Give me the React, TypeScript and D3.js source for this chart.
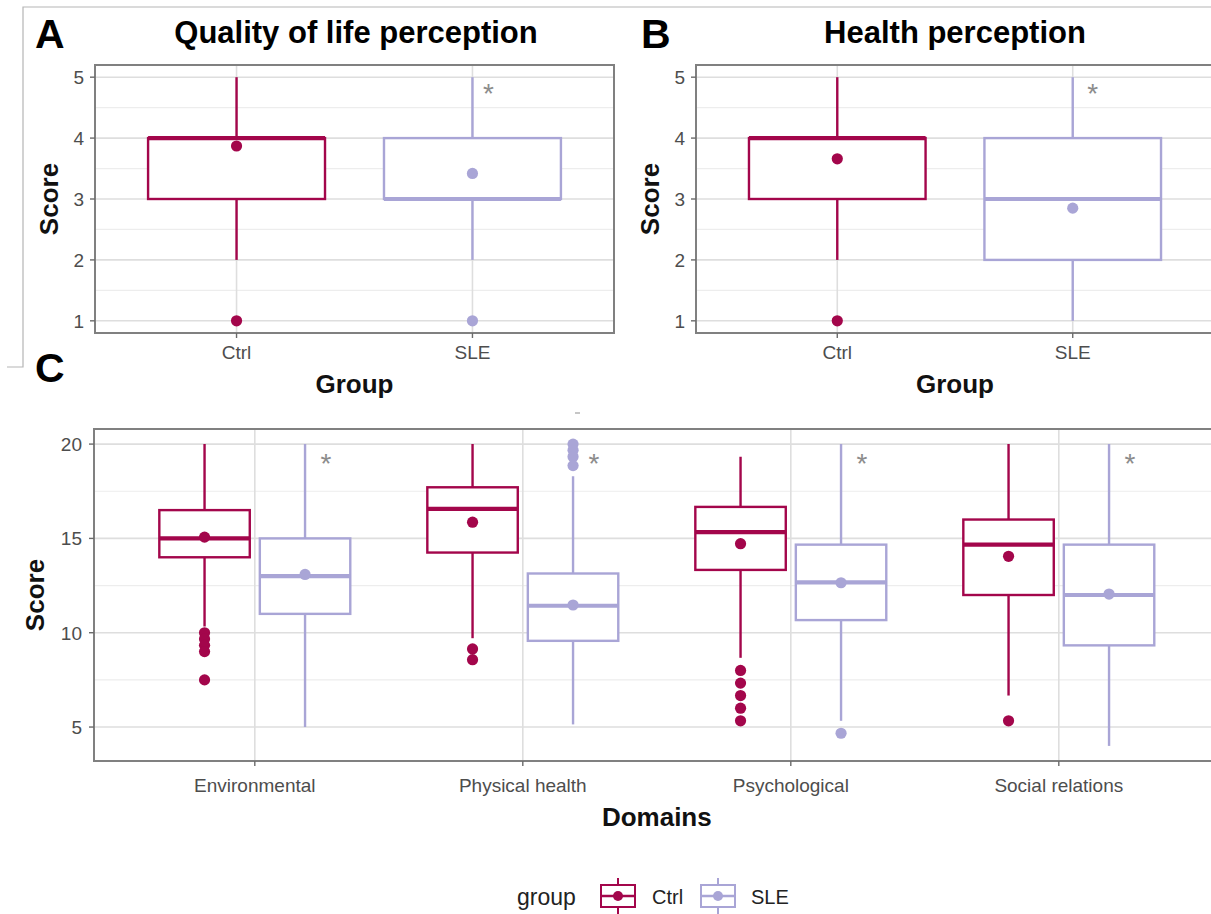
import React from "react";
import * as d3 from "d3";

// ---- data ----
const groups = ["Ctrl", "SLE"];
const domains = ["Environmental", "Physical health", "Psychological", "Social relations"];

// box statistics: [lower whisker, Q1, median, Q3, upper whisker]
const qolStats = [
  [2, 3, 4, 4, 5],
  [2, 3, 3, 4, 5],
];
const qolMeans = [3.87, 3.42];
const qolOutliers = [[1], [1]];

const healthStats = [
  [2, 3, 4, 4, 5],
  [1, 2, 3, 4, 5],
];
const healthMeans = [3.66, 2.85];
const healthOutliers = [[1], []];

const domainCtrlStats = [
  [10.33, 14, 15, 16.5, 20],
  [9.71, 14.25, 16.57, 17.71, 20],
  [8.67, 13.33, 15.33, 16.67, 19.33],
  [6.67, 12, 14.67, 16, 20],
];
const domainSleStats = [
  [5, 11, 13, 15, 20],
  [5.14, 9.57, 11.43, 13.14, 18.29],
  [5.33, 10.67, 12.67, 14.67, 20],
  [4, 9.33, 12, 14.67, 20],
];
const domainCtrlMeans = [15.07, 15.86, 14.72, 14.05];
const domainSleMeans = [13.09, 11.47, 12.65, 12.05];
const domainCtrlOutliers = [[10, 9.67, 9.33, 9, 7.5], [9.14, 8.57], [8, 7.33, 6.67, 6, 5.33], [5.33]];
const domainSleOutliers = [[], [20, 19.67, 19.33, 18.86], [4.67], []];

const smallTicks = [1, 2, 3, 4, 5];
const smallMinor = [1.5, 2.5, 3.5, 4.5];
const domainTicks = [5, 10, 15, 20];
const domainMinor = [7.5, 12.5, 17.5];

// ---- style ----
const FONT = "'Liberation Sans', Arial, Helvetica, sans-serif";
const colors: Record<string, string> = { Ctrl: "#A3064B", SLE: "#A9A5D6" };
const W = 1211;
const H = 914;

type Box = { stats: number[]; mean: number; outliers: number[]; color: string; cx: number; half: number };

function BoxGlyph({ b, y }: { b: Box; y: d3.ScaleLinear<number, number> }) {
  const [lo, q1, med, q3, hi] = b.stats;
  return (
    <g>
      <line x1={b.cx} x2={b.cx} y1={y(hi)} y2={y(q3)} stroke={b.color} strokeWidth={2.4} />
      <line x1={b.cx} x2={b.cx} y1={y(q1)} y2={y(lo)} stroke={b.color} strokeWidth={2.4} />
      <rect
        x={b.cx - b.half}
        y={y(q3)}
        width={b.half * 2}
        height={y(q1) - y(q3)}
        fill="#fff"
        stroke={b.color}
        strokeWidth={2.4}
      />
      <line x1={b.cx - b.half} x2={b.cx + b.half} y1={y(med)} y2={y(med)} stroke={b.color} strokeWidth={4.2} />
      {b.outliers.map((o, i) => (
        <circle key={i} cx={b.cx} cy={y(o)} r={5.6} fill={b.color} />
      ))}
      <circle cx={b.cx} cy={y(b.mean)} r={5.6} fill={b.color} />
    </g>
  );
}

type PanelProps = {
  left: number;
  right: number;
  top: number;
  bottom: number;
  cats: string[];
  domain: [number, number];
  ticks: number[];
  minor: number[];
  boxes: (x: d3.ScalePoint<string>) => Box[];
  stars: (x: d3.ScalePoint<string>) => { x: number; v: number }[];
  starV: number;
  tickLabelX: number;
  catLabelY: number;
  xTitle: string;
  xTitleY: number;
  yTitleX: number;
};

function Panel(p: PanelProps) {
  const x = d3.scalePoint<string>().domain(p.cats).range([p.left, p.right]).padding(0.6);
  const y = d3.scaleLinear().domain(p.domain).range([p.bottom, p.top]);
  const clipId = `clip-${Math.round(p.left)}-${Math.round(p.top)}`;
  const clipRight = Math.min(p.right, W + 20);
  return (
    <g>
      <defs>
        <clipPath id={clipId}>
          <rect x={p.left} y={p.top} width={clipRight - p.left} height={p.bottom - p.top} />
        </clipPath>
      </defs>
      <g clipPath={`url(#${clipId})`}>
        {p.minor.map((t) => (
          <line key={"m" + t} x1={p.left} x2={p.right} y1={y(t)} y2={y(t)} stroke="#EDEDED" strokeWidth={1.2} />
        ))}
        {p.ticks.map((t) => (
          <line key={"g" + t} x1={p.left} x2={p.right} y1={y(t)} y2={y(t)} stroke="#DEDEDE" strokeWidth={1.6} />
        ))}
        {p.cats.map((c) => (
          <line key={"v" + c} x1={x(c)!} x2={x(c)!} y1={p.top} y2={p.bottom} stroke="#DEDEDE" strokeWidth={1.6} />
        ))}
        {p.boxes(x).map((b, i) => (
          <BoxGlyph key={i} b={b} y={y} />
        ))}
        {p.stars(x).map((s, i) => (
          <text key={"s" + i} x={s.x} y={y(s.v) + 14} fontSize={28} fill="#8C8C8C" textAnchor="middle" fontFamily={FONT}>
            *
          </text>
        ))}
      </g>
      <rect
        x={p.left}
        y={p.top}
        width={p.right - p.left}
        height={p.bottom - p.top}
        fill="none"
        stroke="#808080"
        strokeWidth={2}
      />
      {p.ticks.map((t) => (
        <g key={"t" + t}>
          <line x1={p.left - 5} x2={p.left} y1={y(t)} y2={y(t)} stroke="#6b6b6b" strokeWidth={1.4} />
          <text
            x={p.tickLabelX}
            y={y(t)}
            dy="0.36em"
            textAnchor="end"
            fontSize={19}
            fill="#4D4D4D"
            fontFamily={FONT}
          >
            {t}
          </text>
        </g>
      ))}
      {p.cats.map((c) => (
        <g key={"c" + c}>
          <line x1={x(c)!} x2={x(c)!} y1={p.bottom} y2={p.bottom + 5} stroke="#6b6b6b" strokeWidth={1.4} />
          <text x={x(c)!} y={p.catLabelY} textAnchor="middle" fontSize={19} fill="#4D4D4D" fontFamily={FONT}>
            {c}
          </text>
        </g>
      ))}
      <text
        x={(p.left + p.right) / 2}
        y={p.xTitleY}
        textAnchor="middle"
        fontSize={26}
        fontWeight="bold"
        fill="#111"
        fontFamily={FONT}
      >
        {p.xTitle}
      </text>
      <text
        transform={`translate(${p.yTitleX},${(p.top + p.bottom) / 2}) rotate(-90)`}
        textAnchor="middle"
        fontSize={26}
        fontWeight="bold"
        fill="#111"
        fontFamily={FONT}
      >
        Score
      </text>
    </g>
  );
}

function twoGroupBoxes(stats: number[][], means: number[], outliers: number[][]) {
  return (x: d3.ScalePoint<string>) => {
    const half = (x.step() * 0.75) / 2;
    return groups.map((g, i) => ({
      stats: stats[i],
      mean: means[i],
      outliers: outliers[i],
      color: colors[g],
      cx: x(g)!,
      half,
    }));
  };
}

function LegendKey({ cx, cy, color }: { cx: number; cy: number; color: string }) {
  return (
    <g>
      <line x1={cx} x2={cx} y1={cy - 18} y2={cy + 18} stroke={color} strokeWidth={2} />
      <rect x={cx - 17} y={cy - 11} width={34} height={22} fill="#fff" stroke={color} strokeWidth={2} />
      <line x1={cx - 17} x2={cx + 17} y1={cy} y2={cy} stroke={color} strokeWidth={2.6} />
      <circle cx={cx} cy={cy} r={5} fill={color} />
    </g>
  );
}

export default function App() {
  const panelC = { left: 94, right: 94 + 4.2 * 268 };
  return (
    <svg
      width={W}
      height={H}
      viewBox={`0 0 ${W} ${H}`}
      style={{ position: "absolute", left: 0, top: 0, background: "#fff" }}
    >
      <rect x={0} y={0} width={W} height={H} fill="#fff" />
      {/* frame lines around the upper-left figure */}
      <polyline points={`7,367 23,367 23,7 ${W},7`} fill="none" stroke="#B5B5B5" strokeWidth={1.2} />

      {/* Panel A */}
      <Panel
        left={95}
        right={614}
        top={65}
        bottom={333}
        cats={groups}
        domain={[0.8, 5.2]}
        ticks={smallTicks}
        minor={smallMinor}
        boxes={twoGroupBoxes(qolStats, qolMeans, qolOutliers)}
        stars={(x) => [{ x: x("SLE")! + 16, v: 4.8 }]}
        starV={4.8}
        tickLabelX={84}
        catLabelY={359}
        xTitle="Group"
        xTitleY={393}
        yTitleX={58}
      />
      <text x={35} y={48} fontSize={41} fontWeight="bold" fill="#000" fontFamily={FONT}>
        A
      </text>
      <text x={356} y={43} textAnchor="middle" fontSize={31} fontWeight="bold" fill="#000" fontFamily={FONT}>
        Quality of life perception
      </text>

      {/* Panel B */}
      <Panel
        left={696}
        right={1214}
        top={65}
        bottom={333}
        cats={groups}
        domain={[0.8, 5.2]}
        ticks={smallTicks}
        minor={smallMinor}
        boxes={twoGroupBoxes(healthStats, healthMeans, healthOutliers)}
        stars={(x) => [{ x: x("SLE")! + 20, v: 4.8 }]}
        starV={4.8}
        tickLabelX={685}
        catLabelY={359}
        xTitle="Group"
        xTitleY={393}
        yTitleX={659}
      />
      <text x={641} y={48} fontSize={41} fontWeight="bold" fill="#000" fontFamily={FONT}>
        B
      </text>
      <text x={955} y={43} textAnchor="middle" fontSize={31} fontWeight="bold" fill="#000" fontFamily={FONT}>
        Health perception
      </text>

      {/* Panel C */}
      <Panel
        left={panelC.left}
        right={panelC.right}
        top={429}
        bottom={761}
        cats={domains}
        domain={[3.2, 20.8]}
        ticks={domainTicks}
        minor={domainMinor}
        boxes={(x) => {
          const half = (x.step() * 0.75 * 0.5 * 0.9) / 2;
          const off = x.step() * 0.1875;
          return domains.flatMap((d, i) => [
            {
              stats: domainCtrlStats[i],
              mean: domainCtrlMeans[i],
              outliers: domainCtrlOutliers[i],
              color: colors.Ctrl,
              cx: x(d)! - off,
              half,
            },
            {
              stats: domainSleStats[i],
              mean: domainSleMeans[i],
              outliers: domainSleOutliers[i],
              color: colors.SLE,
              cx: x(d)! + off,
              half,
            },
          ]);
        }}
        stars={(x) => domains.map((d) => ({ x: x(d)! + x.step() * 0.1875 + 21, v: 19.2 }))}
        starV={19.2}
        tickLabelX={82}
        catLabelY={792}
        xTitle="Domains"
        xTitleY={826}
        yTitleX={44}
      />
      <text x={35} y={382} fontSize={41} fontWeight="bold" fill="#000" fontFamily={FONT}>
        C
      </text>
      <line x1={575} x2={580} y1={413} y2={413} stroke="#A0A0A0" strokeWidth={1.2} />

      {/* Legend */}
      <text x={517} y={905} fontSize={23} fill="#222" fontFamily={FONT}>
        group
      </text>
      <LegendKey cx={618} cy={896} color={colors.Ctrl} />
      <text x={652} y={904} fontSize={20} fill="#222" fontFamily={FONT}>
        Ctrl
      </text>
      <LegendKey cx={718} cy={896} color={colors.SLE} />
      <text x={751} y={904} fontSize={20} fill="#222" fontFamily={FONT}>
        SLE
      </text>
    </svg>
  );
}
